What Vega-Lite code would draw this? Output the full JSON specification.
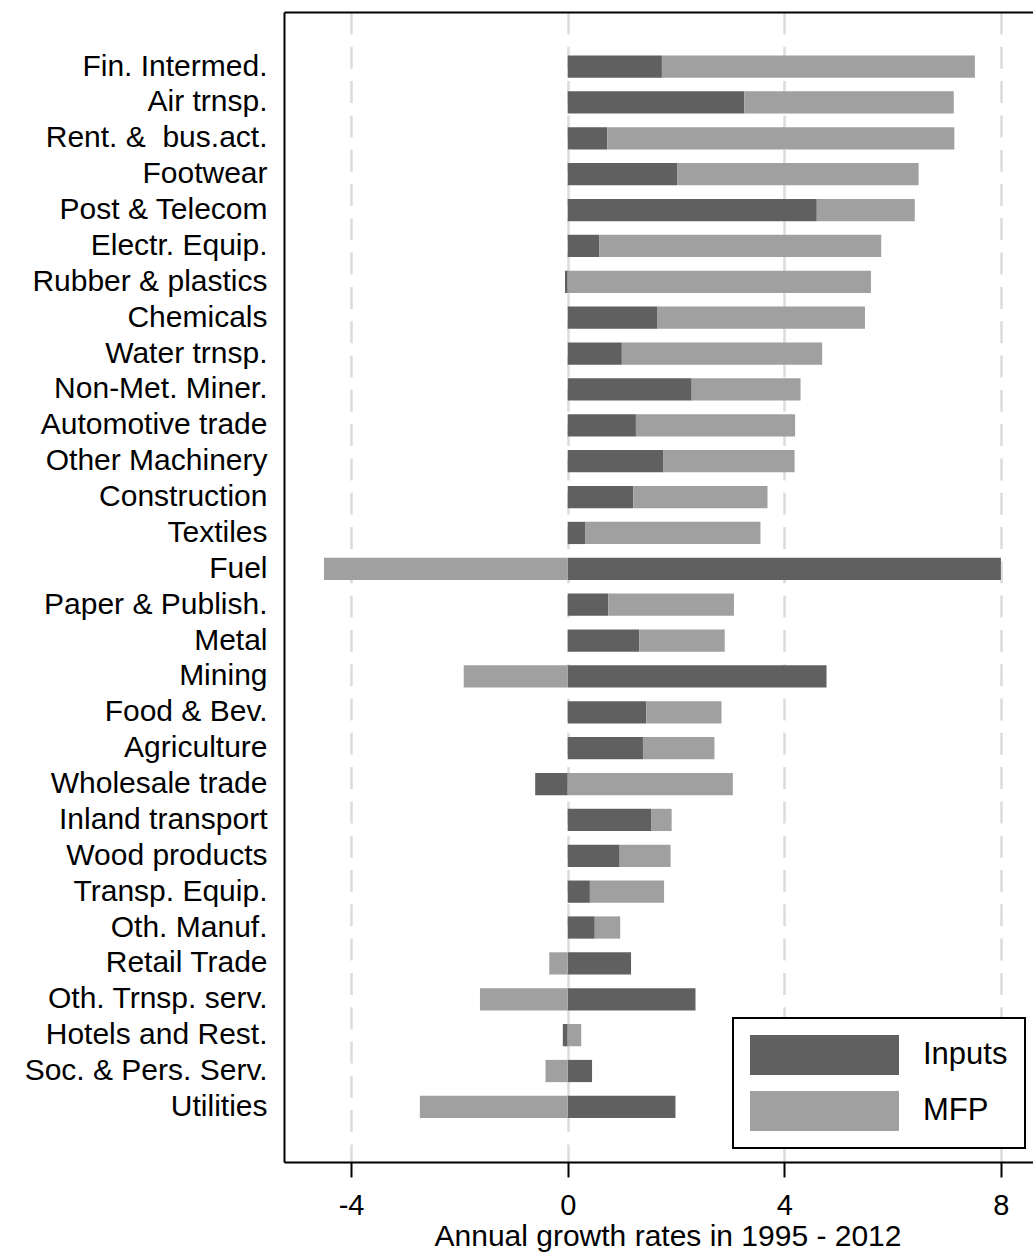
{
  "$schema": "https://vega.github.io/schema/vega-lite/v6.json",
  "autosize": {"type": "none"},
  "padding": {"left": 284, "top": 12, "right": 0, "bottom": 92},
  "width": 749,
  "height": 1150,
  "background": "white",
  "config": {"view": {"stroke": null}, "font": "Liberation Sans"},
  "data": {"values": [
    {"sector": "Fin. Intermed.", "component": "Inputs", "value": 1.74},
    {"sector": "Fin. Intermed.", "component": "MFP", "value": 5.78},
    {"sector": "Air trnsp.", "component": "Inputs", "value": 3.26},
    {"sector": "Air trnsp.", "component": "MFP", "value": 3.87},
    {"sector": "Rent. &\u00a0 bus.act.", "component": "Inputs", "value": 0.73},
    {"sector": "Rent. &\u00a0 bus.act.", "component": "MFP", "value": 6.41},
    {"sector": "Footwear", "component": "Inputs", "value": 2.02},
    {"sector": "Footwear", "component": "MFP", "value": 4.46},
    {"sector": "Post & Telecom", "component": "Inputs", "value": 4.60},
    {"sector": "Post & Telecom", "component": "MFP", "value": 1.81},
    {"sector": "Electr. Equip.", "component": "Inputs", "value": 0.58},
    {"sector": "Electr. Equip.", "component": "MFP", "value": 5.21},
    {"sector": "Rubber & plastics", "component": "Inputs", "value": -0.05},
    {"sector": "Rubber & plastics", "component": "MFP", "value": 5.60},
    {"sector": "Chemicals", "component": "Inputs", "value": 1.66},
    {"sector": "Chemicals", "component": "MFP", "value": 3.83},
    {"sector": "Water trnsp.", "component": "Inputs", "value": 1.00},
    {"sector": "Water trnsp.", "component": "MFP", "value": 3.70},
    {"sector": "Non-Met. Miner.", "component": "Inputs", "value": 2.29},
    {"sector": "Non-Met. Miner.", "component": "MFP", "value": 2.01},
    {"sector": "Automotive trade", "component": "Inputs", "value": 1.26},
    {"sector": "Automotive trade", "component": "MFP", "value": 2.94},
    {"sector": "Other Machinery", "component": "Inputs", "value": 1.77},
    {"sector": "Other Machinery", "component": "MFP", "value": 2.42},
    {"sector": "Construction", "component": "Inputs", "value": 1.21},
    {"sector": "Construction", "component": "MFP", "value": 2.48},
    {"sector": "Textiles", "component": "Inputs", "value": 0.33},
    {"sector": "Textiles", "component": "MFP", "value": 3.23},
    {"sector": "Fuel", "component": "Inputs", "value": 8.00},
    {"sector": "Fuel", "component": "MFP", "value": -4.50},
    {"sector": "Paper & Publish.", "component": "Inputs", "value": 0.75},
    {"sector": "Paper & Publish.", "component": "MFP", "value": 2.32},
    {"sector": "Metal", "component": "Inputs", "value": 1.32},
    {"sector": "Metal", "component": "MFP", "value": 1.58},
    {"sector": "Mining", "component": "Inputs", "value": 4.78},
    {"sector": "Mining", "component": "MFP", "value": -1.92},
    {"sector": "Food & Bev.", "component": "Inputs", "value": 1.45},
    {"sector": "Food & Bev.", "component": "MFP", "value": 1.39},
    {"sector": "Agriculture", "component": "Inputs", "value": 1.39},
    {"sector": "Agriculture", "component": "MFP", "value": 1.32},
    {"sector": "Wholesale trade", "component": "Inputs", "value": -0.60},
    {"sector": "Wholesale trade", "component": "MFP", "value": 3.05},
    {"sector": "Inland transport", "component": "Inputs", "value": 1.54},
    {"sector": "Inland transport", "component": "MFP", "value": 0.38},
    {"sector": "Wood products", "component": "Inputs", "value": 0.96},
    {"sector": "Wood products", "component": "MFP", "value": 0.94},
    {"sector": "Transp. Equip.", "component": "Inputs", "value": 0.41},
    {"sector": "Transp. Equip.", "component": "MFP", "value": 1.37},
    {"sector": "Oth. Manuf.", "component": "Inputs", "value": 0.50},
    {"sector": "Oth. Manuf.", "component": "MFP", "value": 0.47},
    {"sector": "Retail Trade", "component": "Inputs", "value": 1.17},
    {"sector": "Retail Trade", "component": "MFP", "value": -0.34},
    {"sector": "Oth. Trnsp. serv.", "component": "Inputs", "value": 2.36},
    {"sector": "Oth. Trnsp. serv.", "component": "MFP", "value": -1.62},
    {"sector": "Hotels and Rest.", "component": "Inputs", "value": -0.09},
    {"sector": "Hotels and Rest.", "component": "MFP", "value": 0.25},
    {"sector": "Soc. & Pers. Serv.", "component": "Inputs", "value": 0.45},
    {"sector": "Soc. & Pers. Serv.", "component": "MFP", "value": -0.41},
    {"sector": "Utilities", "component": "Inputs", "value": 1.99},
    {"sector": "Utilities", "component": "MFP", "value": -2.73}
  ]},
  "layer": [
    {
      "mark": {"type": "bar"},
      "encoding": {
        "y": {
          "field": "sector", "type": "nominal", "sort": null,
          "scale": {"paddingInner": 0.38, "paddingOuter": 0, "range": [43.5, 1106]},
          "axis": {
            "title": null, "ticks": false, "grid": false, "domain": false,
            "labelPadding": 17, "labelFontSize": 30, "labelFont": "Liberation Sans",
            "labelColor": "black", "labelLimit": 400
          }
        },
        "x": {
          "field": "value", "type": "quantitative", "stack": "zero",
          "scale": {"domain": [-5.239, 8.593], "nice": false, "zero": false},
          "axis": {
            "orient": "bottom", "values": [-4, 0, 4, 8], "grid": false,
            "labelExpr": "'' + datum.value",
            "domainColor": "black", "domainWidth": 2,
            "tickColor": "black", "tickWidth": 2, "tickSize": 15,
            "labelFontSize": 29, "labelPadding": 14, "labelColor": "black",
            "labelFont": "Liberation Sans", "labelFlush": false, "labelOverlap": false,
            "title": "Annual growth rates in 1995 - 2012",
            "titleFont": "Liberation Sans", "titleFontSize": 30, "titleFontWeight": "normal",
            "titleColor": "black", "titleBaseline": "alphabetic", "titleAlign": "center",
            "titleX": 383.5, "titleY": 83
          }
        },
        "color": {
          "field": "component", "type": "nominal",
          "scale": {"domain": ["Inputs", "MFP"], "range": ["#606060", "#a0a0a0"]},
          "legend": {
            "title": null, "orient": "none", "legendX": 449, "legendY": 1006,
            "direction": "vertical",
            "symbolType": "M-1,-0.2685H1V0.2685H-1Z", "symbolSize": 22201,
            "symbolStrokeWidth": 0, "symbolOpacity": 1,
            "clipHeight": 40, "rowPadding": 16, "labelOffset": 24,
            "labelFontSize": 31, "labelFont": "Liberation Sans", "labelColor": "black",
            "padding": 17, "strokeColor": "black", "fillColor": "white", "cornerRadius": 0,
            "encode": {"legend": {"update": {"strokeWidth": {"value": 2}}}}
          }
        }
      }
    },
    {
      "mark": {"type": "rule", "opacity": 0},
      "encoding": {
        "y": {
          "field": "sector", "type": "nominal", "sort": null,
          "axis": {
            "orient": "left", "title": null, "ticks": false, "labels": false, "grid": false,
            "domain": true, "domainColor": "black", "domainWidth": 2
          }
        },
        "x": {
          "field": "value", "type": "quantitative",
          "axis": {
            "orient": "top", "values": [-4, 0, 4, 8], "grid": true,
            "gridColor": "#dcdcdc", "gridWidth": 2.5, "gridDash": [22, 12.3],
            "ticks": false, "labels": false, "domain": true,
            "domainColor": "black", "domainWidth": 2, "title": null
          }
        }
      }
    }
  ],
  "resolve": {"scale": {"y": "independent"}, "axis": {"x": "independent", "y": "independent"}}
}
